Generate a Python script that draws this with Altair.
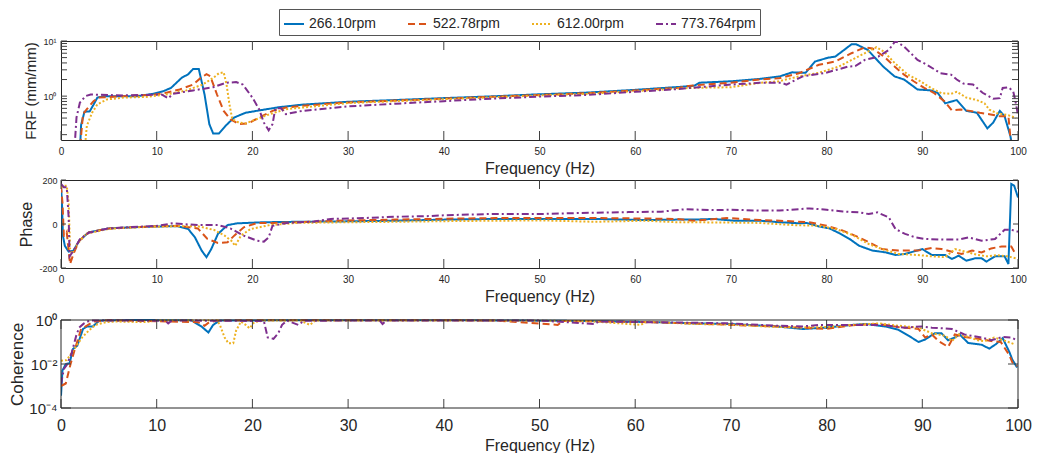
import altair as alt
import pandas as pd

SERIES = ["266.10rpm", "522.78rpm", "612.00rpm", "773.764rpm"]
COLORS = ["#0072BD", "#D95319", "#EDB120", "#7E2F8E"]
DASHES = [[1, 0], [7, 4], [2, 2], [7, 3, 2, 3]]

X_TICKS = [0, 10, 20, 30, 40, 50, 60, 70, 80, 90, 100]

# ---------------- FRF (mm/mm) : (frequency Hz, value) ----------------
FRF_266 = [(1.9, 0.05), (2.1, 0.3), (2.45, 0.52), (3.0, 0.53), (3.4, 0.7), (3.8, 0.94), (4.5, 1.0), (6, 1.0),
           (8, 1.0), (9.6, 1.1), (10.7, 1.23), (11.5, 1.41), (12.6, 2.14), (13.3, 2.5), (13.8, 3.1), (14.4, 3.1),
           (15.0, 1.07), (15.5, 0.31), (15.9, 0.21), (16.5, 0.21), (17.2, 0.29), (18.1, 0.41), (19.3, 0.5),
           (20.7, 0.55), (22.8, 0.63), (25.2, 0.7), (30, 0.79), (35, 0.85), (40, 0.92), (45, 0.99), (50, 1.08),
           (55, 1.16), (60, 1.3), (64.6, 1.47), (66.2, 1.55), (66.7, 1.75), (70, 1.86), (73, 2.05), (75.1, 2.28),
           (76.4, 2.7), (77.8, 2.65), (78.8, 4.25), (80.2, 5.0), (80.9, 5.2), (82.6, 8.7), (83.1, 8.7), (84.3, 6.9),
           (85.9, 3.45), (87.1, 2.28), (88.1, 2.0), (89.5, 1.32), (90.9, 1.27), (91.6, 1.15), (92.4, 0.74),
           (93.6, 0.85), (94.6, 0.54), (95.7, 0.5), (96.8, 0.26), (97.4, 0.33), (98.1, 0.54), (98.6, 0.43),
           (99.2, 0.19), (99.6, 0.08)]
FRF_522 = [(1.8, 0.05), (2.3, 0.47), (2.7, 0.58), (3.4, 0.81), (3.9, 0.94), (6.5, 1.0), (9.5, 1.05), (11.0, 1.15),
           (12.4, 1.32), (13.8, 1.62), (14.6, 2.14), (15.2, 2.5), (15.6, 2.3), (16.3, 1.07), (17.0, 0.54),
           (17.7, 0.38), (18.6, 0.31), (19.6, 0.32), (20.7, 0.41), (22.1, 0.54), (23.5, 0.62), (25.2, 0.67),
           (30, 0.77), (35, 0.83), (40, 0.9), (45, 0.97), (50, 1.05), (55, 1.13), (60, 1.27), (64.6, 1.42),
           (65.8, 1.55), (70, 1.75), (73, 2.0), (75, 2.1), (77.1, 2.6), (79.2, 3.7), (80.9, 4.25), (82.6, 6.0),
           (84, 7.7), (84.8, 7.3), (86, 5.2), (87.1, 3.45), (88.1, 2.45), (89.1, 1.86), (90.2, 1.41), (91.2, 1.15),
           (92.3, 0.81), (93.1, 0.55), (94, 0.57), (95, 0.54), (96, 0.5), (97, 0.47), (98.1, 0.43), (99, 0.43),
           (99.5, 0.05)]
FRF_612 = [(2.3, 0.05), (2.7, 0.29), (3.25, 0.5), (3.8, 0.71), (4.8, 0.87), (6.5, 0.94), (9.0, 0.97), (11, 1.07),
           (13.1, 1.27), (14.8, 1.62), (15.9, 2.14), (16.5, 2.6), (17.0, 2.7), (17.3, 1.62), (17.6, 0.71),
           (17.9, 0.38), (18.6, 0.33), (19.3, 0.32), (20.4, 0.38), (21.8, 0.47), (23.5, 0.58), (25.2, 0.62),
           (30, 0.75), (35, 0.81), (40, 0.88), (45, 0.95), (50, 1.03), (55, 1.1), (60, 1.23), (64.6, 1.38),
           (65.8, 1.41), (70, 1.45), (73, 1.74), (75, 1.86), (77.1, 2.28), (79.2, 2.65), (81.3, 3.45), (83, 4.9),
           (84.3, 6.4), (85.2, 7.7), (86, 6.4), (87.1, 4.0), (88.5, 2.45), (89.8, 1.86), (90.9, 1.41), (92, 1.13),
           (93, 1.1), (93.6, 1.2), (94.6, 0.94), (95.7, 0.85), (96.5, 0.74), (97, 0.57), (97.8, 0.49), (99, 0.45),
           (99.8, 0.4)]
FRF_773 = [(1.28, 0.05), (1.62, 0.41), (1.97, 0.76), (2.56, 1.0), (3.1, 1.07), (6.5, 1.03), (10.5, 1.07),
           (11.2, 0.91), (11.7, 1.1), (13.8, 1.27), (15.9, 1.45), (17.2, 1.74), (18.3, 1.8), (19.0, 1.62),
           (20.0, 0.94), (20.7, 0.58), (21.2, 0.33), (21.7, 0.24), (22.1, 0.31), (22.4, 0.6), (23.0, 0.6),
           (23.5, 0.47), (24.2, 0.5), (25.2, 0.54), (30, 0.65), (35, 0.73), (40, 0.81), (45, 0.9), (50, 0.98),
           (55, 1.05), (60, 1.2), (64.6, 1.35), (65.8, 1.41), (70, 1.62), (73, 1.74), (75.3, 1.74), (75.8, 1.62),
           (77.5, 2.28), (79.9, 2.65), (82.3, 3.45), (83, 3.5), (84, 4.55), (85.4, 5.2), (86.5, 6.9), (87.2, 10.1),
           (88.1, 7.9), (89.5, 4.55), (90.5, 3.7), (91.9, 2.6), (93, 2.45), (93.6, 2.0), (94.3, 1.69), (95.3, 1.62),
           (96.3, 1.15), (97.4, 0.9), (98.1, 0.92), (98.4, 1.41), (99, 1.45), (99.5, 1.22), (99.8, 0.71), (100, 0.45)]

# ---------------- Phase (deg) ----------------
PH_266 = [(0, 170), (0.1, 100), (0.2, -53), (0.4, -99), (0.8, -126), (1.3, -121), (1.9, -76), (2.9, -38), (5, -20),
          (7.4, -15), (10.2, -11), (12.2, -10), (13.3, -23), (14.0, -61), (14.7, -121), (15.2, -151), (15.7, -114),
          (16.4, -45), (17.4, -5), (18.4, 3), (21.2, 8), (24.7, 10), (29.9, 12), (35, 15), (40.2, 20), (45.4, 23),
          (50.6, 23), (55.8, 23), (61, 18), (64.4, 20), (66.1, 20), (68.2, 23), (70.3, 15), (73, 15), (75.1, 8),
          (77.2, 3), (77.9, 5), (79.2, -11), (80.3, -20), (81.3, -41), (82.4, -68), (83.4, -99), (84.8, -121),
          (86.2, -129), (87.2, -141), (88.2, -136), (90, -114), (91, -141), (92.4, -141), (93.1, -159), (93.8, -144),
          (94.6, -167), (95.5, -156), (96.2, -156), (96.7, -171), (97.6, -147), (98.6, -147), (99.0, -182),
          (99.3, 182), (99.6, 174), (100, 121)]
PH_522 = [(0, 174), (0.15, 99), (0.3, -53), (0.45, -53), (0.6, -38), (0.95, -182), (1.3, -136), (1.9, -76),
          (2.9, -38), (5, -20), (7.4, -15), (10.2, -10), (12.2, -8), (14.3, -20), (15.3, -68), (16.4, -86),
          (17.4, -83), (18.1, -53), (19.1, -15), (20.5, 5), (22.2, 5), (24.7, 8), (29.9, 16), (35, 20), (40.2, 24),
          (45.4, 27), (50.6, 27), (55.8, 27), (61, 25), (64.4, 23), (66.1, 15), (69.6, 27), (73, 18), (75.1, 15),
          (78.2, 8), (80, -8), (81.7, -30), (83.4, -61), (84.8, -91), (85.8, -114), (87.5, -121), (89.5, -121),
          (91, -109), (92, -114), (93.1, -126), (94.1, -136), (95.2, -121), (96.2, -129), (97.2, -111), (98.3, -102),
          (99.3, -102), (99.8, -141)]
PH_612 = [(0, 167), (0.3, 174), (0.6, 174), (0.8, 99), (0.95, -114), (1.15, -136), (1.7, -91), (2.6, -45), (5, -22),
          (7.4, -16), (10.2, -12), (12.2, -10), (14.3, -10), (16, -27), (17.1, -53), (17.8, -76), (18.2, -99),
          (18.8, -53), (19.8, -23), (21.8, -5), (24.7, 5), (29.9, 8), (35, 10), (40.2, 13), (45.4, 15), (50.6, 16),
          (55.8, 10), (61, 15), (64.4, 8), (66.1, 8), (73, 5), (76.5, -5), (79.2, -8), (81, -23), (82.7, -50),
          (84.4, -91), (85.8, -114), (87.5, -136), (89.5, -141), (91, -147), (92.4, -151), (93.4, -114), (94.8, -129),
          (95.8, -141), (96.8, -147), (97.8, -141), (98.9, -147), (99.8, -156)]
PH_773 = [(0, 182), (0.3, 167), (0.6, 167), (0.8, 30), (0.9, -147), (1.3, -121), (2.0, -68), (2.9, -40), (5, -20),
          (7.4, -14), (10.2, -8), (11.6, 3), (14.3, -5), (16.4, -5), (17.7, -20), (19.1, -53), (20.5, -76),
          (21.2, -80), (21.7, -61), (22.1, -8), (23.6, 5), (26.4, 11), (28.2, 23), (31.7, 27), (35, 33), (38.5, 36),
          (40.2, 40), (45.4, 46), (50.6, 46), (54.1, 50), (59.3, 54), (62.7, 56), (65.2, 67), (68.3, 63), (70, 65),
          (73, 61), (75.1, 61), (78.2, 71), (80, 65), (81.7, 57), (83.4, 53), (84.4, 45), (85.3, 53), (86.5, 30),
          (87.2, -23), (88.2, -45), (89.3, -61), (90.3, -68), (92.4, -71), (93.8, -71), (94.8, -61), (96.2, -76),
          (97.6, -68), (98.6, -26), (99.3, -26), (100, -35)]

# ---------------- Coherence ----------------
CO_266 = [(0, 3.6e-4), (0.15, 5e-3), (0.5, 0.01), (0.9, 0.011), (1.25, 0.048), (1.7, 0.068), (2.3, 0.39), (2.7, 0.5),
          (3.3, 0.5), (4.0, 0.93), (7.4, 1.0), (13.6, 0.97), (14.7, 0.5), (15.4, 0.27), (15.9, 0.6), (16.6, 0.95),
          (25, 0.97), (35, 0.97), (45, 0.96), (55, 0.9), (62, 0.8), (66.1, 0.7), (70, 0.66), (74.8, 0.51),
          (77.5, 0.39), (79.9, 0.45), (82.7, 0.6), (84.1, 0.66), (86.1, 0.51), (87.5, 0.36), (88.6, 0.19),
          (89.6, 0.1), (90.3, 0.13), (91.3, 0.25), (92.0, 0.25), (92.7, 0.12), (93.4, 0.16), (93.9, 0.22),
          (94.8, 0.09), (96.2, 0.075), (97.0, 0.05), (97.7, 0.08), (98.4, 0.15), (99.1, 0.035), (99.4, 0.016),
          (99.9, 0.007)]
CO_522 = [(0, 1e-3), (0.5, 1.3e-3), (1.0, 0.01), (1.4, 0.04), (2.1, 0.39), (2.7, 0.55), (3.4, 0.85), (5, 0.97),
          (14.3, 0.8), (15.0, 0.55), (15.5, 0.8), (16.5, 0.96), (30, 0.97), (45, 0.96), (51.9, 0.6), (52.5, 0.9),
          (60, 0.82), (66.1, 0.7), (70, 0.6), (74.8, 0.51), (77.5, 0.45), (79.9, 0.39), (82.7, 0.58), (85.5, 0.66),
          (87.5, 0.48), (89.6, 0.39), (90.3, 0.16), (91.0, 0.22), (91.7, 0.11), (92.7, 0.06), (93.4, 0.22),
          (94.4, 0.17), (95.8, 0.14), (97.2, 0.11), (98.2, 0.1), (99.1, 0.025), (99.4, 0.012), (99.9, 0.008)]
CO_612 = [(0, 0.014), (0.6, 0.015), (1.5, 0.057), (2.2, 0.16), (2.9, 0.33), (3.6, 0.6), (4.7, 0.8), (5.8, 0.85),
          (8.9, 0.8), (10, 0.97), (16.3, 0.97), (16.6, 0.6), (17.1, 0.16), (17.5, 0.087), (18.0, 0.087), (18.3, 0.33),
          (18.8, 0.85), (19.3, 0.6), (19.7, 0.42), (20.2, 0.8), (21.2, 0.95), (25, 0.95), (26, 0.6), (26.6, 0.95),
          (40, 0.96), (55, 0.9), (60.6, 0.6), (61.2, 0.85), (66.1, 0.66), (70, 0.62), (74.8, 0.48), (77.5, 0.46),
          (79.9, 0.48), (82.7, 0.6), (85.5, 0.7), (87.5, 0.55), (89.6, 0.45), (91.0, 0.25), (92.4, 0.19),
          (93.1, 0.11), (93.8, 0.22), (94.8, 0.17), (95.8, 0.12), (96.5, 0.11), (97.5, 0.16), (98.5, 0.12),
          (99.6, 0.08)]
CO_773 = [(0, 1.2e-3), (0.3, 6e-3), (0.6, 0.009), (1.1, 0.03), (1.6, 0.2), (1.9, 0.45), (2.4, 0.7), (3.0, 0.95),
          (10.9, 0.93), (11.2, 0.7), (11.6, 0.95), (21.2, 0.9), (21.6, 0.16), (22.2, 0.14), (22.7, 0.25), (23.1, 0.6),
          (23.6, 0.95), (24.8, 0.6), (25.4, 0.93), (33.3, 0.95), (33.6, 0.66), (34.0, 0.95), (50, 0.95), (55.7, 0.66),
          (56.2, 0.85), (66.1, 0.75), (70, 0.7), (74.8, 0.55), (77.5, 0.51), (79.2, 0.6), (82.7, 0.6), (85.5, 0.6),
          (88.2, 0.45), (89.9, 0.51), (91.0, 0.45), (93.1, 0.39), (94.4, 0.22), (96.2, 0.16), (97.2, 0.12),
          (98.4, 0.17), (99.3, 0.16), (99.9, 0.12)]

FRF_Y_MAJOR = [1, 10]
FRF_Y_MINOR = [0.2, 0.3, 0.4, 0.5, 0.6, 0.7, 0.8, 0.9, 2, 3, 4, 5, 6, 7, 8, 9]
PH_Y_MAJOR = [-200, 0, 200]
CO_Y_MAJOR = [1e-4, 1e-2, 1]
FRF_DOMAIN = [0.16, 10]
PH_DOMAIN = [-200, 200]
CO_DOMAIN = [1e-4, 1]
F_DOMAIN = [0, 100]

FONT = "Liberation Sans"
TXT = "#262626"
TICK = "#404040"
W = 957


def make_df(series_pts):
    rows = []
    for name, pts in zip(SERIES, series_pts):
        for f, v in pts:
            rows.append({"f": f, "v": v, "s": name})
    return pd.DataFrame(rows)


LEGEND = alt.Legend(title=None, orient="none", legendX=218, legendY=-32, direction="horizontal",
                    symbolType="stroke", symbolSize=400, symbolStrokeWidth=2, labelFontSize=14,
                    labelFont=FONT, labelColor=TXT, strokeColor="#555555", fillColor="white",
                    padding=4, columnPadding=20, labelOffset=4, gridAlign="all")


def panel(df, height, ydomain, ytype, yvalues, ylabel_expr, ytitle, ytitle_size, ylabel_size, ylabel_pad,
          ytitle_pad, xlabel_size, xlabel_pad, xtitle_pad, xtick_len, ymajor_len, yminor=None, yminor_len=0,
          top_gap=0):
    xaxis = alt.Axis(values=X_TICKS, title="Frequency (Hz)", grid=False, ticks=False, domain=False,
                     labelFontSize=xlabel_size, titleFontSize=16, labelPadding=xlabel_pad,
                     titlePadding=xtitle_pad, labelFont=FONT, titleFont=FONT, labelColor=TXT,
                     titleColor=TXT, titleFontWeight="normal", labelFlush=False)
    yaxis = alt.Axis(values=yvalues, labelExpr=ylabel_expr, title=ytitle, grid=False, ticks=False,
                     domain=False, labelFontSize=ylabel_size, titleFontSize=ytitle_size,
                     labelPadding=ylabel_pad, titlePadding=ytitle_pad, labelFont=FONT, titleFont=FONT,
                     labelColor=TXT, titleColor=TXT, titleFontWeight="normal", labelFlush=False)
    xscale = alt.Scale(domain=F_DOMAIN, nice=False, zero=False)
    if top_gap:
        yscale = alt.Scale(type=ytype, domain=ydomain, nice=False, range=[height, top_gap])
    else:
        yscale = alt.Scale(type=ytype, domain=ydomain, nice=False)
    x = alt.X("f:Q", scale=xscale, axis=xaxis)
    y = alt.Y("v:Q", scale=yscale, axis=yaxis)

    lines = alt.Chart(df).mark_line(strokeWidth=2, clip=True).encode(
        x=x, y=y,
        color=alt.Color("s:N", scale=alt.Scale(domain=SERIES, range=COLORS), legend=LEGEND),
        strokeDash=alt.StrokeDash("s:N", scale=alt.Scale(domain=SERIES, range=DASHES), legend=LEGEND),
    )
    xt = pd.DataFrame({"f": X_TICKS})
    top_t = alt.Chart(xt).mark_rule(color=TICK, strokeWidth=1).encode(
        x=x, y=alt.value(top_gap), y2=alt.value(top_gap + xtick_len))
    bot_t = alt.Chart(xt).mark_rule(color=TICK, strokeWidth=1).encode(
        x=x, y=alt.value(height), y2=alt.value(height - xtick_len))
    layers = [lines, top_t, bot_t]
    yt = pd.DataFrame({"v": yvalues})
    layers.append(alt.Chart(yt).mark_rule(color=TICK, strokeWidth=1).encode(
        y=y, x=alt.value(0), x2=alt.value(ymajor_len)))
    layers.append(alt.Chart(yt).mark_rule(color=TICK, strokeWidth=1).encode(
        y=y, x=alt.value(W), x2=alt.value(W - ymajor_len)))
    if yminor:
        ym = pd.DataFrame({"v": yminor})
        layers.append(alt.Chart(ym).mark_rule(color=TICK, strokeWidth=1).encode(
            y=y, x=alt.value(0), x2=alt.value(yminor_len)))
        layers.append(alt.Chart(ym).mark_rule(color=TICK, strokeWidth=1).encode(
            y=y, x=alt.value(W), x2=alt.value(W - yminor_len)))
    if top_gap:
        box = pd.DataFrame({"f": [F_DOMAIN[0]], "f2": [F_DOMAIN[1]], "v": [ydomain[0]], "v2": [ydomain[1]]})
        layers.append(alt.Chart(box).mark_rect(filled=False, color="#262626", strokeWidth=1).encode(
            x=x, x2="f2:Q", y=y, y2="v2:Q"))
        return alt.layer(*layers).properties(width=W, height=height,
                                             view=alt.ViewBackground(stroke=None))
    return alt.layer(*layers).properties(width=W, height=height)


top = panel(make_df([FRF_266, FRF_522, FRF_612, FRF_773]), 99, FRF_DOMAIN, "log",
            FRF_Y_MAJOR, "datum.value > 5 ? '10\u00b9' : '10\u2070'", "FRF (mm/mm)", 15, 9, 5, 4,
            10, 6, 4, 9, 6, FRF_Y_MINOR, 6)
mid = panel(make_df([PH_266, PH_522, PH_612, PH_773]), 88, PH_DOMAIN, "linear",
            PH_Y_MAJOR, "datum.value < 0 ? '-' + abs(datum.value) : '' + datum.value", "Phase", 16, 9, 4, 4,
            10, 6, 4, 9, 5)
bot = panel(make_df([CO_266, CO_522, CO_612, CO_773]), 100, CO_DOMAIN, "log",
            CO_Y_MAJOR,
            "datum.value > 0.5 ? '10\u2070' : (datum.value > 0.005 ? '10\u207b\u00b2' : '10\u207b\u2074')",
            "Coherence", 17, 15, 4, 2, 16, 9, 4, 9, 10, top_gap=12)

chart = alt.vconcat(top, mid, bot, spacing=40, bounds="flush").properties(
    padding={"left": 0, "top": 0, "right": 0, "bottom": 0}
).configure_view(stroke="#262626", strokeWidth=1)

chart.save("out.html", embed_options={"renderer": "svg", "actions": False})
